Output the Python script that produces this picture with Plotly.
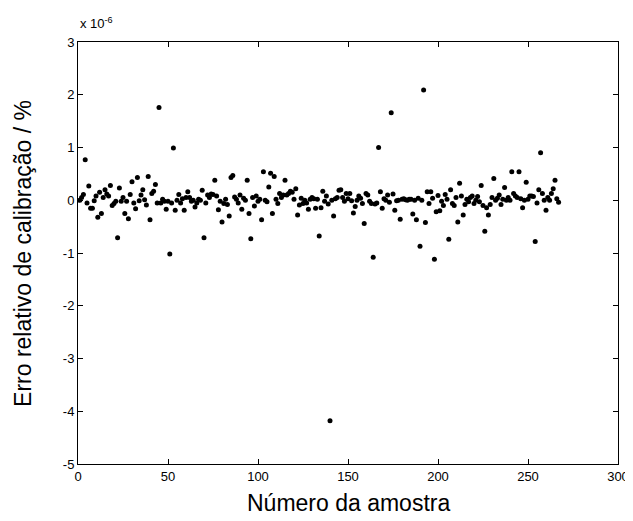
import plotly.graph_objects as go

# sample index 1..267 and relative calibration error (x 1e-6 %)
erro = [
    0.00, 0.05, 0.11, 0.77, -0.05, 0.27, -0.15, -0.15, -0.01, 0.08,
    -0.32, 0.15, -0.25, 0.05, 0.20, 0.12, 0.08, 0.28, -0.10, -0.06,
    -0.02, -0.71, 0.23, -0.02, 0.05, -0.25, -0.02, -0.35, 0.11, 0.35,
    -0.05, -0.16, 0.43, -0.01, 0.10, 0.20, 0.01, -0.09, 0.45, -0.37,
    0.13, 0.17, 0.30, -0.05, 1.76, -0.05, 0.02, -0.02, -0.17, -0.02,
    -1.02, -0.05, 0.99, -0.19, 0.00, 0.11, -0.05, 0.03, -0.19, 0.05,
    0.16, 0.05, -0.02, 0.00, -0.13, -0.05, 0.02, 0.00, 0.19, -0.71,
    -0.05, 0.10, 0.05, 0.12, 0.11, 0.38, 0.08, -0.18, -0.02, -0.41,
    -0.06, 0.02, -0.08, -0.30, 0.43, 0.47, 0.06, 0.02, -0.05, 0.10,
    -0.17, 0.04, 0.00, 0.38, -0.25, -0.73, 0.05, -0.11, 0.08, -0.02,
    0.02, -0.37, 0.54, 0.00, -0.03, 0.25, 0.51, -0.25, 0.45, 0.02,
    -0.06, 0.13, 0.05, 0.10, 0.38, 0.10, 0.13, 0.17, 0.15, 0.02,
    0.22, -0.28, -0.09, 0.04, -0.06, 0.00, -0.05, -0.17, 0.02, 0.05,
    0.03, -0.15, 0.02, -0.68, -0.14, 0.17, -0.02, 0.08, -0.07, -4.18,
    0.00, -0.30, 0.03, 0.05, 0.19, 0.20, 0.05, -0.02, 0.13, 0.03,
    0.13, -0.01, -0.24, -0.12, 0.00, 0.08, 0.04, -0.06, -0.44, 0.13,
    0.10, -0.02, -0.06, -1.08, -0.07, -0.05, 1.00, 0.16, -0.15, 0.03,
    0.00, 0.10, -0.04, 1.66, 0.12, -0.19, -0.01, 0.00, -0.36, 0.02,
    0.03, 0.01, 0.00, 0.02, 0.02, -0.26, 0.00, -0.37, 0.04, -0.87,
    0.00, 2.09, -0.42, 0.16, -0.06, 0.16, 0.04, -1.12, -0.22, 0.09,
    -0.20, -0.02, -0.10, 0.11, 0.02, -0.74, 0.20, -0.06, -0.10, 0.05,
    -0.41, 0.32, 0.08, -0.28, -0.08, 0.02, -0.03, 0.05, 0.08, -0.06,
    0.00, 0.07, -0.03, 0.28, -0.10, -0.59, -0.14, -0.28, -0.08, 0.05,
    0.41, 0.00, 0.04, 0.10, -0.08, 0.02, 0.24, 0.00, 0.05, 0.00,
    0.54, 0.13, 0.08, 0.05, 0.54, 0.03, -0.14, 0.00, 0.34, 0.02,
    0.08, 0.08, 0.07, -0.78, -0.05, 0.20, 0.90, 0.13, 0.00, -0.19,
    0.05, 0.00, 0.13, 0.22, 0.38, 0.03, -0.04,
]
amostra = list(range(1, len(erro) + 1))

x_ticks = [0, 50, 100, 150, 200, 250, 300]
x_ticktext = ["0", "50", "100", "150", "200", "250", "300"]
y_ticks = [-5, -4, -3, -2, -1, 0, 1, 2, 3]
y_ticktext = ["-5", "-4", "-3", "-2", "-1", "0", "1", "2", "3"]

FONT = "Liberation Sans, Arial, sans-serif"

fig = go.Figure()
fig.add_trace(go.Scatter(
    x=amostra, y=erro, mode="markers",
    marker=dict(color="black", size=5, symbol="circle"),
    showlegend=False,
))

axis_common = dict(
    showline=True, linecolor="black", linewidth=1, mirror="ticks",
    ticks="inside", ticklen=5, tickcolor="black", tickwidth=1,
    showgrid=False, zeroline=False,
    tickfont=dict(family=FONT, size=13, color="black"),
)

fig.update_xaxes(range=[0, 300], tickvals=x_ticks, ticktext=x_ticktext, **axis_common)
fig.update_yaxes(range=[-5, 3], tickvals=y_ticks, ticktext=y_ticktext, **axis_common)

fig.update_layout(
    width=633, height=521,
    margin=dict(l=70, r=12, t=34, b=65),
    paper_bgcolor="white", plot_bgcolor="white",
    font=dict(family=FONT, color="black"),
    annotations=[
        dict(text="Erro relativo de calibração / %", xref="paper", yref="paper",
             x=-0.102, y=0.5, textangle=-90, showarrow=False,
             xanchor="center", yanchor="middle",
             font=dict(family=FONT, size=23, color="black")),
        dict(text="Número da amostra", xref="paper", yref="paper",
             x=0.5, y=-0.092, showarrow=False,
             xanchor="center", yanchor="middle",
             font=dict(family=FONT, size=23, color="black")),
        dict(text="x 10<sup>-6</sup>", xref="paper", yref="paper",
             x=0.0, y=1.0, yshift=9, showarrow=False,
             xanchor="left", yanchor="bottom",
             font=dict(family=FONT, size=13, color="black")),
    ],
)

fig.write_html("out.html")
